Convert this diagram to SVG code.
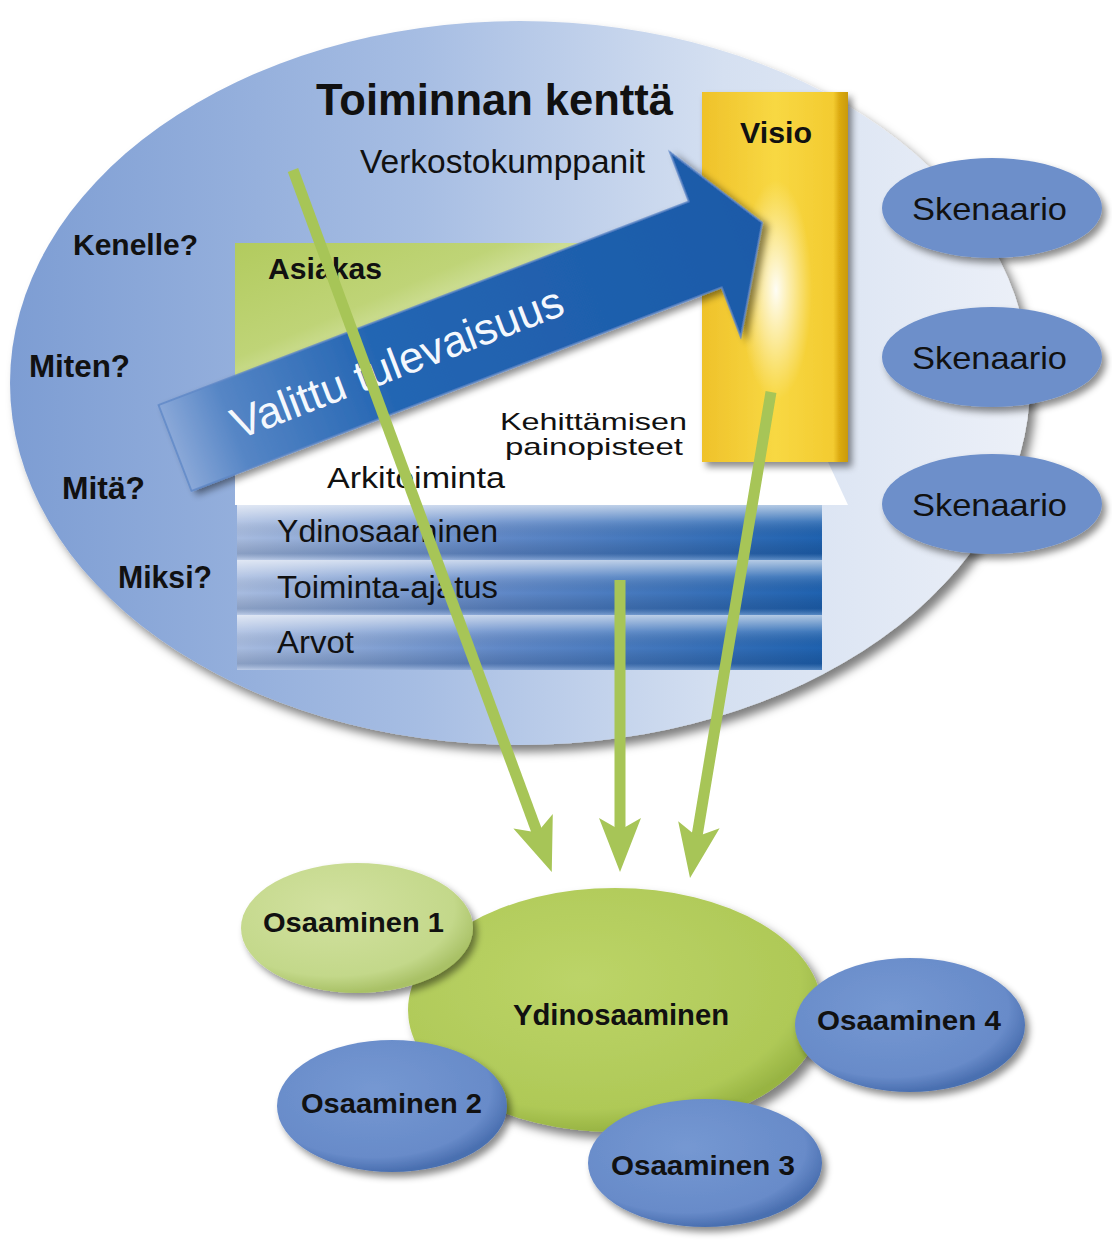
<svg xmlns="http://www.w3.org/2000/svg" width="1112" height="1241" viewBox="0 0 1112 1241">
<defs>
<style>
text{font-family:"Liberation Sans",Arial,sans-serif;fill:#111;}
.b{font-weight:bold;}
.w{fill:#f4f8fd;}
.gl{stroke:#a7c557;stroke-width:11;fill:none;}
.sk{fill:#6d8fca;}
</style>
<linearGradient id="gBig" x1="0" y1="0" x2="1" y2="0">
<stop offset="0" stop-color="#7d9dd3"/>
<stop offset="0.4" stop-color="#a6bde3"/>
<stop offset="0.7" stop-color="#d5e0f1"/>
<stop offset="1" stop-color="#ecf0f8"/>
</linearGradient>
<linearGradient id="gField" x1="0" y1="0" x2="1" y2="1">
<stop offset="0" stop-color="#b2cb5e"/>
<stop offset="0.22" stop-color="#bfd477"/>
<stop offset="0.32" stop-color="#d9e6ad"/>
<stop offset="0.42" stop-color="#ffffff"/>
</linearGradient>
<linearGradient id="gBarH" x1="0" y1="0" x2="1" y2="0">
<stop offset="0" stop-color="#a8bce0"/>
<stop offset="0.45" stop-color="#6189c8"/>
<stop offset="1" stop-color="#1f62b0"/>
</linearGradient>
<linearGradient id="gBarV" x1="0" y1="0" x2="0" y2="1">
<stop offset="0" stop-color="#fff" stop-opacity="0.65"/>
<stop offset="0.3" stop-color="#fff" stop-opacity="0.15"/>
<stop offset="0.6" stop-color="#000" stop-opacity="0"/>
<stop offset="0.88" stop-color="#001a40" stop-opacity="0.18"/>
<stop offset="1" stop-color="#fff" stop-opacity="0.25"/>
</linearGradient>
<linearGradient id="gYel" x1="0" y1="0" x2="1" y2="0">
<stop offset="0" stop-color="#efc22a"/>
<stop offset="0.5" stop-color="#f8d843"/>
<stop offset="0.9" stop-color="#f3cb30"/>
<stop offset="0.94" stop-color="#dcab12"/>
<stop offset="1" stop-color="#c99a0a"/>
</linearGradient>
<radialGradient id="gGlow" cx="0.5" cy="0.5" r="0.5">
<stop offset="0" stop-color="#fff" stop-opacity="0.95"/>
<stop offset="0.5" stop-color="#fffbe8" stop-opacity="0.5"/>
<stop offset="1" stop-color="#fff8d0" stop-opacity="0"/>
</radialGradient>
<linearGradient id="gArrow" gradientUnits="userSpaceOnUse" x1="0" y1="0" x2="629" y2="0">
<stop offset="0" stop-color="#8aa8d8"/>
<stop offset="0.1" stop-color="#5585c5"/>
<stop offset="0.35" stop-color="#2466b3"/>
<stop offset="1" stop-color="#1b5aa8"/>
</linearGradient>
<radialGradient id="gGreen" cx="0.42" cy="0.38" r="0.62">
<stop offset="0" stop-color="#bcd468"/>
<stop offset="0.85" stop-color="#afc957"/>
<stop offset="1" stop-color="#98b443"/>
</radialGradient>
<radialGradient id="gLight" cx="0.4" cy="0.35" r="0.65">
<stop offset="0" stop-color="#d2e1a0"/>
<stop offset="0.8" stop-color="#c3d88a"/>
<stop offset="1" stop-color="#a9c166"/>
</radialGradient>
<radialGradient id="gBlue" cx="0.42" cy="0.38" r="0.62">
<stop offset="0" stop-color="#7598d2"/>
<stop offset="0.82" stop-color="#688bc9"/>
<stop offset="1" stop-color="#4a6fb0"/>
</radialGradient>
<filter id="sh" x="-10%" y="-10%" width="125%" height="130%">
<feDropShadow dx="6" dy="7" stdDeviation="5" flood-color="#000" flood-opacity="0.5"/>
</filter>
<filter id="shs" x="-10%" y="-10%" width="130%" height="140%">
<feDropShadow dx="4" dy="5" stdDeviation="3.5" flood-color="#000" flood-opacity="0.45"/>
</filter>
<marker id="ah" markerUnits="userSpaceOnUse" viewBox="-60 -25 64 50" markerWidth="64" markerHeight="50" refX="-34" refY="0" orient="auto">
<path d="M0,0 L-54,-21 L-42,0 L-54,21 Z" fill="#a7c557"/>
</marker>
</defs>
<rect width="1112" height="1241" fill="#fff"/>

<g id="field">
<ellipse cx="520" cy="383" rx="510" ry="362" fill="url(#gBig)" filter="url(#sh)"/>
<polygon points="235,243 848,243 848,462 828,462 848,505 235,505" fill="url(#gField)"/>
</g>

<g id="bars">
<g id="bar-ydinosaaminen">
<rect x="237" y="505" width="585" height="55" fill="url(#gBarH)"/>
<rect x="237" y="505" width="585" height="55" fill="url(#gBarV)"/>
<text x="277" y="542" font-size="31" textLength="221" lengthAdjust="spacingAndGlyphs">Ydinosaaminen</text>
</g>
<g id="bar-toiminta-ajatus">
<rect x="237" y="560" width="585" height="55" fill="url(#gBarH)"/>
<rect x="237" y="560" width="585" height="55" fill="url(#gBarV)"/>
<text x="277" y="598" font-size="31" textLength="221" lengthAdjust="spacingAndGlyphs">Toiminta-ajatus</text>
</g>
<g id="bar-arvot">
<rect x="237" y="615" width="585" height="55" fill="url(#gBarH)"/>
<rect x="237" y="615" width="585" height="55" fill="url(#gBarV)"/>
<text x="277" y="653" font-size="31" textLength="77" lengthAdjust="spacingAndGlyphs">Arvot</text>
</g>
</g>

<g id="visio">
<rect x="702" y="92" width="146" height="370" fill="url(#gYel)" filter="url(#shs)"/>
<ellipse cx="776" cy="290" rx="36" ry="110" fill="url(#gGlow)"/>
<text class="b" x="740" y="143" font-size="30" textLength="72" lengthAdjust="spacingAndGlyphs">Visio</text>
</g>

<g id="valittu-tulevaisuus" transform="translate(175,448) rotate(-21)">
<polygon points="0,-46 568,-46 568,-99 629,0 568,99 568,46 0,46" fill="url(#gArrow)" stroke="#5e86c6" stroke-width="1.5" filter="url(#shs)"/>
<text class="w" x="62" y="15" font-size="44" textLength="352" lengthAdjust="spacingAndGlyphs">Valittu tulevaisuus</text>
</g>

<g id="labels">
<text class="b" x="316" y="115" font-size="44" textLength="357" lengthAdjust="spacingAndGlyphs">Toiminnan kenttä</text>
<text x="360" y="173" font-size="33" textLength="285" lengthAdjust="spacingAndGlyphs">Verkostokumppanit</text>
<text class="b" x="73" y="255" font-size="30" textLength="125" lengthAdjust="spacingAndGlyphs">Kenelle?</text>
<text class="b" x="268" y="279" font-size="30" textLength="114" lengthAdjust="spacingAndGlyphs">Asiakas</text>
<text class="b" x="29" y="377" font-size="31" textLength="101" lengthAdjust="spacingAndGlyphs">Miten?</text>
<text class="b" x="62" y="499" font-size="31" textLength="83" lengthAdjust="spacingAndGlyphs">Mitä?</text>
<text class="b" x="118" y="588" font-size="31" textLength="94" lengthAdjust="spacingAndGlyphs">Miksi?</text>
<text x="500" y="430" font-size="24" textLength="187" lengthAdjust="spacingAndGlyphs">Kehittämisen</text>
<text x="505" y="455" font-size="24" textLength="178" lengthAdjust="spacingAndGlyphs">painopisteet</text>
<text x="327" y="488" font-size="30" textLength="178" lengthAdjust="spacingAndGlyphs">Arkitoiminta</text>
</g>

<g id="skenaario-1">
<ellipse class="sk" cx="992" cy="208" rx="110" ry="50" filter="url(#shs)"/>
<text x="912" y="220" font-size="32" textLength="155" lengthAdjust="spacingAndGlyphs">Skenaario</text>
</g>
<g id="skenaario-2">
<ellipse class="sk" cx="992" cy="357" rx="110" ry="50" filter="url(#shs)"/>
<text x="912" y="369" font-size="32" textLength="155" lengthAdjust="spacingAndGlyphs">Skenaario</text>
</g>
<g id="skenaario-3">
<ellipse class="sk" cx="992" cy="504" rx="110" ry="50" filter="url(#shs)"/>
<text x="912" y="516" font-size="32" textLength="155" lengthAdjust="spacingAndGlyphs">Skenaario</text>
</g>

<g id="connectors">
<line class="gl" x1="293" y1="170" x2="540" y2="840" marker-end="url(#ah)"/>
<line class="gl" x1="620" y1="580" x2="620" y2="838" marker-end="url(#ah)"/>
<line class="gl" x1="771" y1="392" x2="695.6" y2="844.5" marker-end="url(#ah)"/>
</g>

<g id="ydinosaaminen">
<ellipse cx="615" cy="1010" rx="207" ry="122" fill="url(#gGreen)" filter="url(#sh)"/>
<text class="b" x="513" y="1025" font-size="29" textLength="216" lengthAdjust="spacingAndGlyphs">Ydinosaaminen</text>
</g>
<g id="osaaminen-1">
<ellipse cx="357" cy="928" rx="116" ry="65" fill="url(#gLight)" filter="url(#shs)"/>
<text class="b" x="263" y="932" font-size="28" textLength="181" lengthAdjust="spacingAndGlyphs">Osaaminen 1</text>
</g>
<g id="osaaminen-4">
<ellipse cx="910" cy="1025" rx="115" ry="67" fill="url(#gBlue)" filter="url(#shs)"/>
<text class="b" x="817" y="1030" font-size="28" textLength="184" lengthAdjust="spacingAndGlyphs">Osaaminen 4</text>
</g>
<g id="osaaminen-2">
<ellipse cx="392" cy="1106" rx="115" ry="66" fill="url(#gBlue)" filter="url(#shs)"/>
<text class="b" x="301" y="1113" font-size="28" textLength="181" lengthAdjust="spacingAndGlyphs">Osaaminen 2</text>
</g>
<g id="osaaminen-3">
<ellipse cx="705" cy="1163" rx="117" ry="64" fill="url(#gBlue)" filter="url(#shs)"/>
<text class="b" x="611" y="1175" font-size="28" textLength="184" lengthAdjust="spacingAndGlyphs">Osaaminen 3</text>
</g>
</svg>
